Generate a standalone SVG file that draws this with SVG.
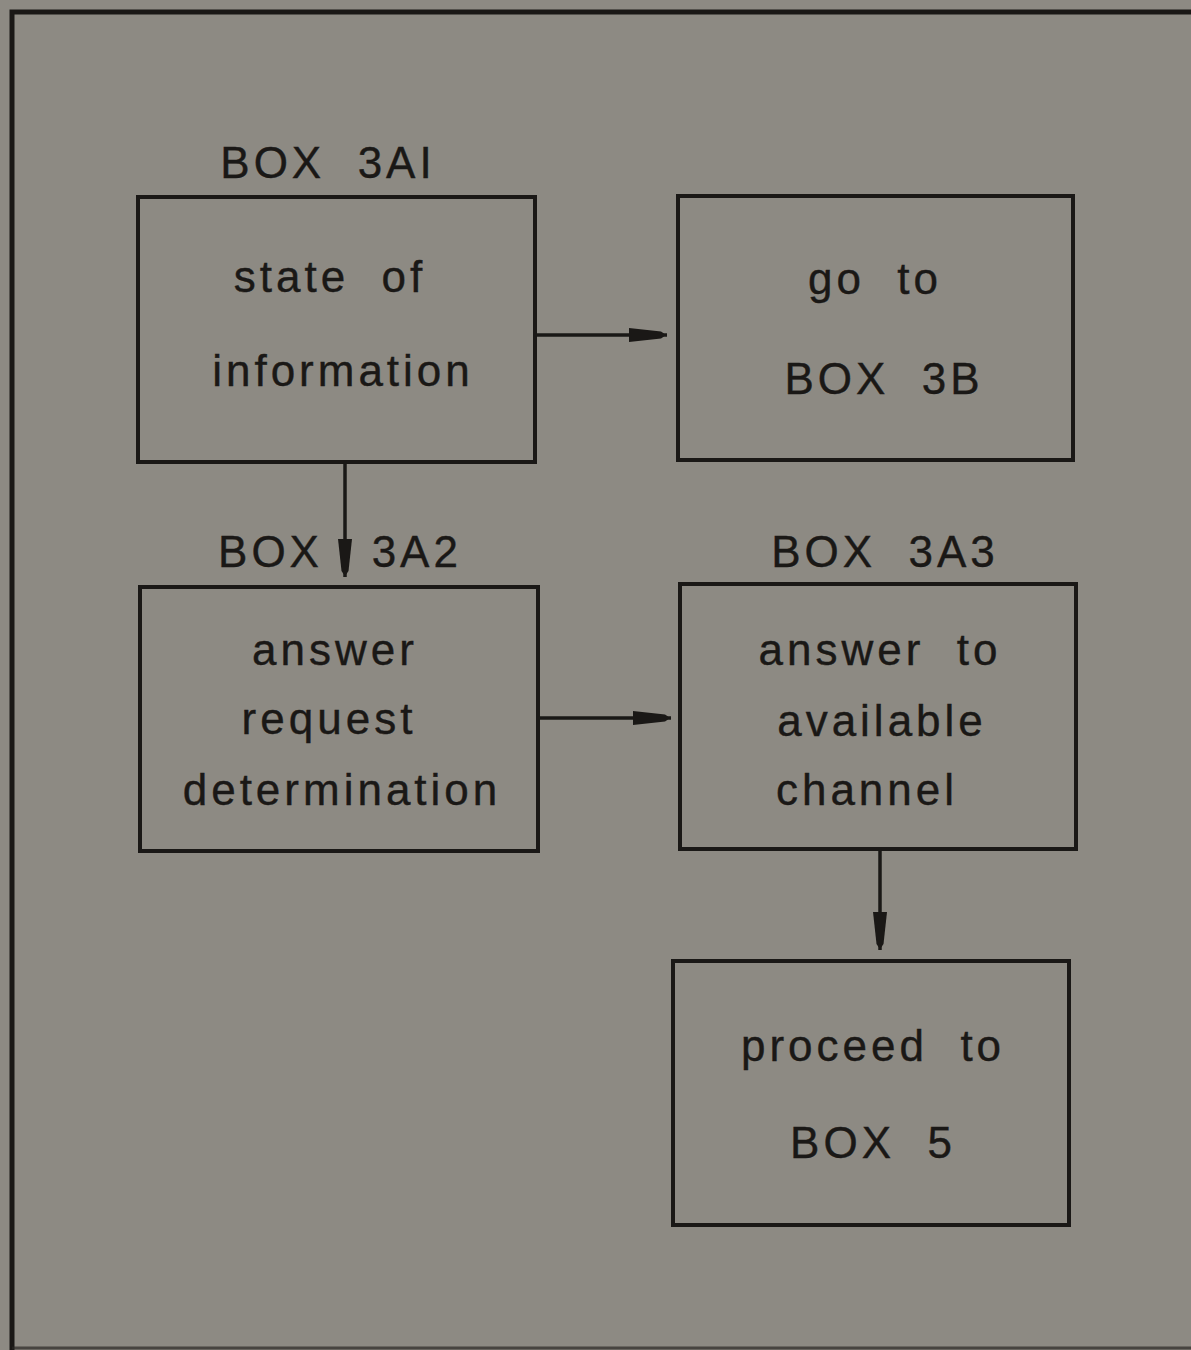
<svg xmlns="http://www.w3.org/2000/svg" width="1191" height="1350" viewBox="0 0 1191 1350">
<style>
.bg{fill:#8d8a83}
.frame{fill:none;stroke:#1a1816;stroke-width:5}
.box{fill:none;stroke:#1a1816;stroke-width:4}
.t{font-family:"Liberation Sans",Arial,sans-serif;font-size:44px;fill:#1a1816;stroke:#1a1816;stroke-width:0.4;text-anchor:middle;letter-spacing:4px;white-space:pre}
.c{fill:none;stroke:#1a1816;stroke-width:3.5}
</style>
<defs>
<marker id="ah" markerUnits="userSpaceOnUse" markerWidth="42" markerHeight="18" viewBox="0 -9 42 18" refX="38" refY="0" orient="auto">
<path d="M0,-7 L32,-3.5 Q39,0 32,3.5 L0,7 Z" fill="#1a1816"/>
</marker>
</defs>
<rect class="bg" x="0" y="0" width="1191" height="1350"/>
<path class="frame" d="M1191,12 L12,12 L12,1350"/>
<path d="M12,1348 L1191,1348" stroke="#2a2724" stroke-width="3" fill="none" opacity="0.7"/>

<g id="box3a1">
<text class="t" x="328" y="178">BOX  3AI</text>
<rect class="box" x="138" y="197" width="397" height="265"/>
<text class="t" x="330" y="292">state  of</text>
<text class="t" x="343" y="386">information</text>
</g>
<g id="box3b">
<rect class="box" x="678" y="196" width="395" height="264"/>
<text class="t" x="875" y="294">go  to</text>
<text class="t" x="884" y="394">BOX  3B</text>
</g>
<g id="box3a2">
<text class="t" x="340" y="567">BOX   3A2</text>
<rect class="box" x="140" y="587" width="398" height="264"/>
<text class="t" x="335" y="665">answer</text>
<text class="t" x="329" y="734">request</text>
<text class="t" x="342" y="805">determination</text>
</g>
<g id="box3a3">
<text class="t" x="885" y="567">BOX  3A3</text>
<rect class="box" x="680" y="584" width="396" height="265"/>
<text class="t" x="880" y="665">answer  to</text>
<text class="t" x="882" y="736">available</text>
<text class="t" x="867" y="805">channel</text>
</g>
<g id="box5">
<rect class="box" x="673" y="961" width="396" height="264"/>
<text class="t" x="873" y="1061">proceed  to</text>
<text class="t" x="873" y="1158">BOX  5</text>
</g>
<g id="connectors">
<line class="c" x1="535" y1="335" x2="667" y2="335" marker-end="url(#ah)"/>
<line class="c" x1="345" y1="462" x2="345" y2="577" marker-end="url(#ah)"/>
<line class="c" x1="538" y1="718" x2="671" y2="718" marker-end="url(#ah)"/>
<line class="c" x1="880" y1="849" x2="880" y2="950" marker-end="url(#ah)"/>
</g>
</svg>
